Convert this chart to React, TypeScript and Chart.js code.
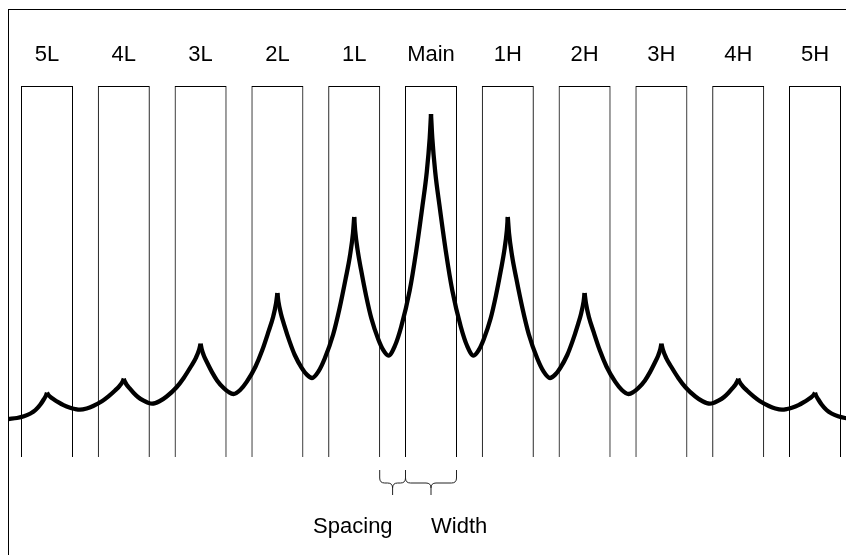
import { useEffect, useRef } from 'react';
import { Chart, registerables } from 'chart.js';

Chart.register(...registerables);

// Channel bands (x in channel units, Main = 0)
const channelLabels = ['5L', '4L', '3L', '2L', '1L', 'Main', '1H', '2H', '3H', '4H', '5H'];
const channelCenters = [-5, -4, -3, -2, -1, 0, 1, 2, 3, 4, 5];
const channelWidth = 0.664;
const bandBottom = 0;
const bandTop = 371;

// Response curve (x: channel units, y: level)
const curveX = [
  -5.5, -5.391, -5.3, -5.215, -5.15, -5.086, -5.043, -5.013, -5,
  -4.987, -4.957, -4.914, -4.849, -4.785, -4.699, -4.635, -4.57, -4.484, -4.399, -4.285, -4.2, -4.114, -4.057, -4.017, -4,
  -3.989, -3.963, -3.926, -3.871, -3.816, -3.742, -3.686, -3.631, -3.536, -3.442, -3.316, -3.22, -3.126, -3.063, -3.019, -3,
  -2.987, -2.957, -2.914, -2.85, -2.786, -2.7, -2.635, -2.571, -2.485, -2.4, -2.286, -2.199, -2.115, -2.057, -2.017, -2,
  -1.987, -1.955, -1.91, -1.842, -1.774, -1.684, -1.617, -1.549, -1.467, -1.385, -1.274, -1.192, -1.11, -1.055, -1.016, -1,
  -0.987, -0.955, -0.911, -0.844, -0.777, -0.688, -0.621, -0.554, -0.471, -0.388, -0.277, -0.194, -0.111, -0.055, -0.017, 0,
  0.017, 0.055, 0.111, 0.194, 0.277, 0.388, 0.471, 0.554, 0.621, 0.688, 0.777, 0.844, 0.911, 0.955, 0.987, 1,
  1.016, 1.055, 1.11, 1.192, 1.274, 1.385, 1.467, 1.549, 1.617, 1.684, 1.774, 1.842, 1.91, 1.955, 1.987, 2,
  2.017, 2.057, 2.115, 2.199, 2.286, 2.4, 2.485, 2.571, 2.635, 2.7, 2.786, 2.85, 2.914, 2.957, 2.987, 3,
  3.019, 3.063, 3.126, 3.22, 3.316, 3.442, 3.536, 3.631, 3.686, 3.742, 3.816, 3.871, 3.926, 3.963, 3.989, 4,
  4.017, 4.057, 4.114, 4.2, 4.285, 4.399, 4.484, 4.57, 4.635, 4.699, 4.785, 4.849, 4.914, 4.957, 4.987, 5,
  5.013, 5.043, 5.086, 5.15, 5.215, 5.3, 5.391, 5.5,
];
const curveY = [
  38, 39, 40.7, 43.5, 47, 52.5, 57.5, 61.5, 64.3,
  62.6, 60.2, 57.8, 54.6, 51.9, 49.3, 48, 47.3, 48.5, 51, 55.7, 60.6, 66.5, 70.9, 75.2, 78.3,
  75.8, 72.3, 68.8, 64, 60, 56.3, 54.3, 53.3, 55.7, 60.5, 69.5, 79.1, 90.5, 98.9, 107.3, 113.3,
  108.3, 101.2, 94.2, 84.6, 76.6, 69, 65, 63, 67, 75.1, 90.3, 106.4, 125.6, 139.8, 153.9, 164,
  155.5, 143.6, 131.7, 115.6, 102, 89.2, 82.4, 79, 85.4, 98.3, 122.5, 148.2, 178.8, 201.4, 223.9, 240,
  226.1, 206.7, 187.3, 160.9, 138.7, 118, 106.8, 101.3, 111, 130.3, 166.6, 205.2, 251.2, 285, 318.8, 343,
  318.8, 285, 251.2, 205.2, 166.6, 130.3, 111, 101.3, 106.8, 118, 138.7, 160.9, 187.3, 206.7, 226.1, 240,
  223.9, 201.4, 178.8, 148.2, 122.5, 98.3, 85.4, 79, 82.4, 89.2, 102, 115.6, 131.7, 143.6, 155.5, 164,
  153.9, 139.8, 125.6, 106.4, 90.3, 75.1, 67, 63, 65, 69, 76.6, 84.6, 94.2, 101.2, 108.3, 113.3,
  107.3, 98.9, 90.5, 79.1, 69.5, 60.5, 55.7, 53.3, 54.3, 56.3, 60, 64, 68.8, 72.3, 75.8, 78.3,
  75.2, 70.9, 66.5, 60.6, 55.7, 51, 48.5, 47.3, 48, 49.3, 51.9, 54.6, 57.8, 60.2, 62.6, 64.3,
  61.5, 57.5, 52.5, 47, 43.5, 40.7, 39, 38,
];

// Annotation values (chart units)
const frameX = [-5.5, 5.5];
const frameTopLevel = 447.5;
const labelLevel = 396;
const braceLevels = [-13, -26, -38]; // top, middle, tip
const braceTexts = ['Spacing', 'Width'];
const braceTextLevel = -76;

const FONT = '22px "Liberation Sans", Arial, Helvetica, sans-serif';

function buildSegments() {
  const segs: { x: number; y: number }[][] = [];
  let cur: { x: number; y: number }[] = [];
  curveX.forEach((x, i) => {
    const p = { x, y: curveY[i] };
    cur.push(p);
    if (channelCenters.includes(x) && cur.length > 1) {
      segs.push(cur);
      cur = [p];
    }
  });
  if (cur.length > 1) segs.push(cur);
  return segs;
}

const crisp = (v: number) => Math.round(v - 0.5) + 0.5;

const decorPlugin = {
  id: 'decor',
  beforeDatasetsDraw(chart: any) {
    const { ctx } = chart;
    const xs = chart.scales.x;
    const ys = chart.scales.y;
    ctx.save();
    ctx.strokeStyle = '#000';
    ctx.lineWidth = 1;
    const xl = crisp(xs.getPixelForValue(frameX[0]));
    const xr = crisp(xs.getPixelForValue(frameX[1]));
    const yt = crisp(ys.getPixelForValue(frameTopLevel));
    const yb = ys.getPixelForValue(-400);
    ctx.strokeRect(xl, yt, xr - xl, yb - yt);
    ctx.restore();
  },
  afterDatasetsDraw(chart: any) {
    const { ctx } = chart;
    const xs = chart.scales.x;
    const ys = chart.scales.y;
    ctx.save();
    ctx.fillStyle = '#000';
    ctx.font = FONT;
    ctx.textAlign = 'center';
    ctx.textBaseline = 'alphabetic';
    channelLabels.forEach((lab, i) => {
      ctx.fillText(lab, xs.getPixelForValue(channelCenters[i]), ys.getPixelForValue(labelLevel));
    });

    const half = channelWidth / 2;
    const spans = [
      [channelCenters[4] + half, channelCenters[5] - half],
      [channelCenters[5] - half, channelCenters[5] + half],
    ];
    const yt = ys.getPixelForValue(braceLevels[0]);
    const ym = ys.getPixelForValue(braceLevels[1]);
    const yb = ys.getPixelForValue(braceLevels[2]);
    ctx.strokeStyle = '#222';
    ctx.lineWidth = 1;
    const r = 5;
    spans.forEach(([a, b]) => {
      const x0 = xs.getPixelForValue(a);
      const x1 = xs.getPixelForValue(b);
      const xm = (x0 + x1) / 2;
      ctx.beginPath();
      ctx.moveTo(x0, yt);
      ctx.lineTo(x0, ym - r);
      ctx.quadraticCurveTo(x0, ym, x0 + r, ym);
      ctx.lineTo(xm - r, ym);
      ctx.quadraticCurveTo(xm, ym, xm, ym + r);
      ctx.lineTo(xm, yb);
      ctx.moveTo(xm, ym + r);
      ctx.quadraticCurveTo(xm, ym, xm + r, ym);
      ctx.lineTo(x1 - r, ym);
      ctx.quadraticCurveTo(x1, ym, x1, ym - r);
      ctx.lineTo(x1, yt);
      ctx.stroke();
    });

    const ty = ys.getPixelForValue(braceTextLevel);
    ctx.textAlign = 'right';
    ctx.fillText(braceTexts[0], xs.getPixelForValue((spans[0][0] + spans[0][1]) / 2), ty);
    ctx.textAlign = 'left';
    ctx.fillText(braceTexts[1], xs.getPixelForValue((spans[1][0] + spans[1][1]) / 2), ty);
    ctx.restore();
  },
};

export default function App() {
  const ref = useRef<HTMLCanvasElement | null>(null);
  useEffect(() => {
    if (!ref.current) return;
    const segments = buildSegments();
    const lineSets = segments.map((seg) => ({
      type: 'line' as const,
      data: seg,
      borderColor: '#000',
      borderWidth: 4.3,
      pointRadius: 0,
      fill: false,
      cubicInterpolationMode: 'monotone' as const,
      borderCapStyle: 'butt' as const,
      borderJoinStyle: 'round' as const,
      order: 0,
    }));
    const chart = new Chart(ref.current, {
      type: 'line',
      data: {
        datasets: [
          ...lineSets,
          {
            type: 'bar' as const,
            data: channelCenters.map((c) => ({ x: c, y: [bandBottom, bandTop] })),
            barThickness: 52,
            backgroundColor: 'rgba(0,0,0,0)',
            borderColor: '#000',
            borderWidth: 1,
            borderSkipped: 'bottom',
            inflateAmount: 0,
            order: 5,
          } as any,
        ],
      },
      options: {
        animation: false,
        responsive: false,
        events: [],
        layout: { padding: 0 },
        plugins: { legend: { display: false }, tooltip: { enabled: false }, title: { display: false } },
        scales: {
          x: { type: 'linear', min: -5.612, max: 5.4036, display: false, offset: false },
          y: { type: 'linear', min: -98, max: 457, display: false },
        },
      },
      plugins: [decorPlugin],
    });
    return () => chart.destroy();
  }, []);
  return (
    <div style={{ position: 'absolute', left: 0, top: 0, width: 846, height: 555, background: '#fff' }}>
      <canvas ref={ref} width={846} height={555} style={{ display: 'block' }} />
    </div>
  );
}
